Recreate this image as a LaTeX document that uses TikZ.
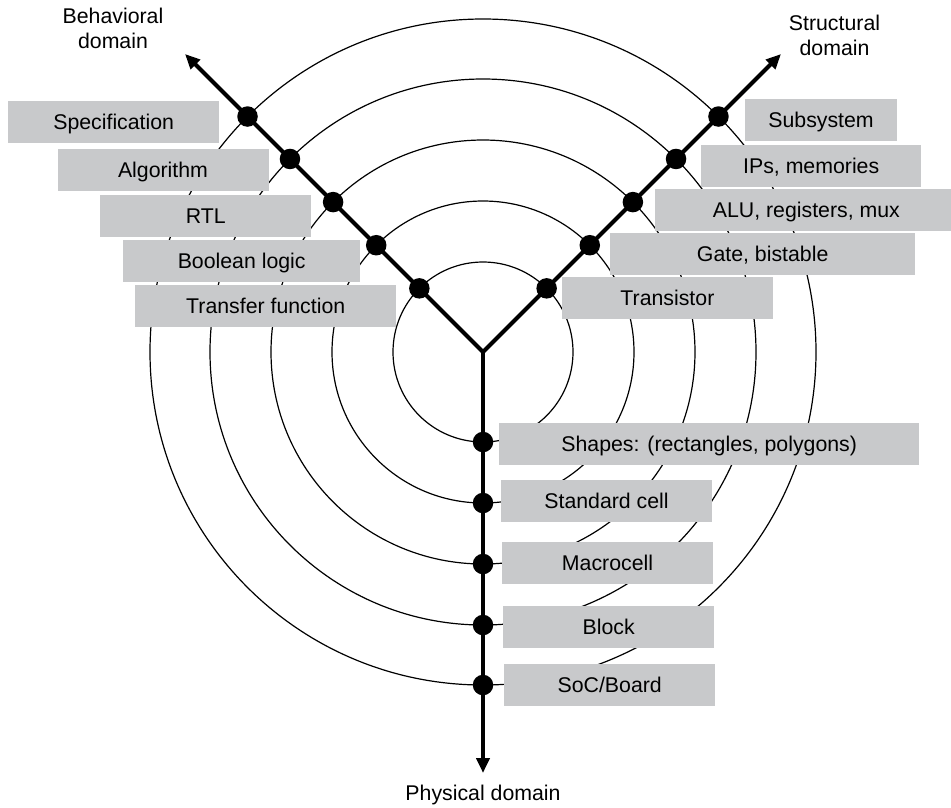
\documentclass[tikz,border=0pt]{standalone}
\usepackage{fontspec}
\setmainfont{Liberation Sans}
\usetikzlibrary{arrows.meta,calc}
\definecolor{labelgray}{RGB}{200,201,203}
\begin{document}
\begin{tikzpicture}[x=1pt,y=-1pt,
  ring/.style={line width=1.2pt},
  axisline/.style={line width=4.2pt, line join=miter},
  tip/.tip={Triangle[length=15pt,width=13pt]},
  dot/.style={circle, fill=black, inner sep=0pt, minimum size=20.5pt},
  levelbox/.style={fill=labelgray, inner sep=0pt, minimum height=41.5pt,
    text height=15pt, text depth=0pt, font=\fontsize{21.3}{25}\selectfont, anchor=west},
  domainlabel/.style={font=\fontsize{21.3}{25}\selectfont, align=center, inner sep=0pt}]
\useasboundingbox (0,0) rectangle (951,807);

% centre of the Y-chart
\coordinate (c) at (483,352);

% abstraction-level rings
\foreach \r in {90,151,212,273,333}
  \draw[ring] (c) circle[radius=\r pt];

% behavioral levels
\node[levelbox, minimum width=211pt] (spec) at (8,121.8)   {Specification};
\node[levelbox, minimum width=211pt] (algo) at (57.3,169.8) {Algorithm};
\node[levelbox, minimum width=211pt] (rtl)  at (100,215.8) {RTL};
\node[levelbox, minimum width=237pt] (bool) at (123,261)   {Boolean logic};
\node[levelbox, minimum width=261pt] (tf)   at (135,306)   {Transfer function};

% structural levels
\node[levelbox, minimum width=151.7pt] (subsys) at (745,120)   {Subsystem};
\node[levelbox, minimum width=220pt]   (ips)    at (701,165.8) {IPs, memories};
\node[levelbox, minimum width=303.7pt] (alu)    at (654.3,210) {ALU, registers, mux};
\node[levelbox, minimum width=305pt]   (gate)   at (610,254)   {Gate, bistable};
\node[levelbox, minimum width=211pt]   (trans)  at (561.7,298) {Transistor};

% physical levels
\node[levelbox, minimum width=420pt]   (shapes) at (499,443.8) {Shapes: (rectangles, polygons)};
\node[levelbox, minimum width=210.7pt] (stdc)   at (501,500.8) {Standard cell};
\node[levelbox, minimum width=210.7pt] (macro)  at (502,562.8) {Macrocell};
\node[levelbox, minimum width=211pt]   (block)  at (503,626.8) {Block};
\node[levelbox, minimum width=211pt]   (soc)    at (504,684.8) {SoC/Board};

% domain axes
\coordinate (tb) at (185,54);
\coordinate (ts) at (781,54);
\coordinate (tp) at (483,773);
\draw[axisline, tip-tip] (tb) -- (c) -- (ts);
\draw[axisline, -tip] (c) -- (tp);

% level markers on each axis
\foreach \r [count=\i] in {90,151,212,273,333} {
  \node[dot] (b\i) at ($(c)+(135:\r pt)$) {};
  \node[dot] (s\i) at ($(c)+(45:\r pt)$) {};
  \node[dot] (p\i) at ($(c)+(-90:\r pt)$) {};
}

% domain names
\node[domainlabel, anchor=north] (behav)  at (113,8.3)  {Behavioral\\domain};
\node[domainlabel, anchor=north] (struct) at (834.5,15) {Structural\\domain};
\node[domainlabel, anchor=base]  (phys)   at (483,800.7) {Physical domain};
\end{tikzpicture}
\end{document}
